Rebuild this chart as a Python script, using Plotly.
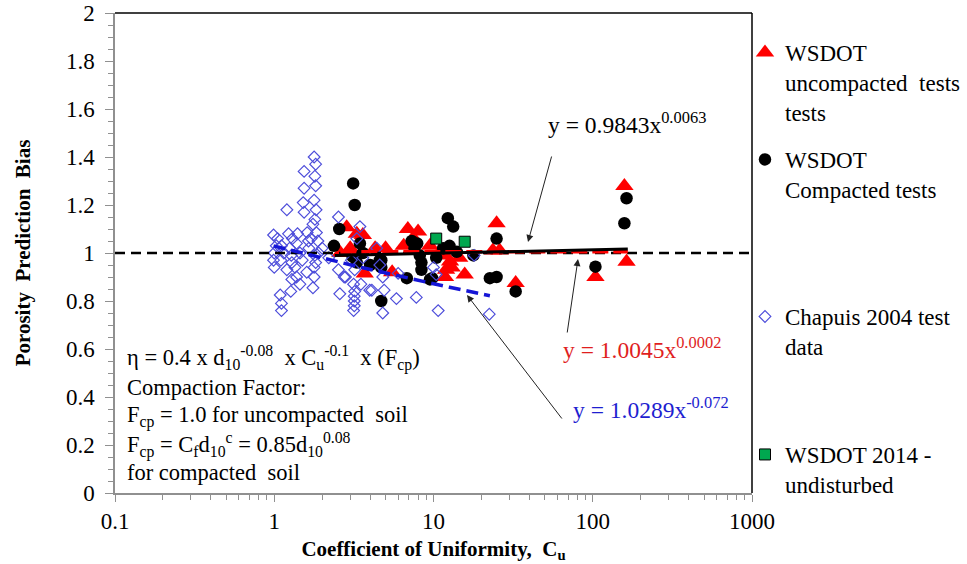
import plotly.graph_objects as go
import numpy as np

# ---------------- data ----------------
uncomp_cu = [2.85, 3.6, 3.3, 6.9, 8.0, 24.9, 4.3, 5.0, 11.0, 11.8, 13.0, 11.8, 15.7, 5.5, 3.7,
             23.6, 26.0, 6.5, 12.0, 12.7, 32.8, 158, 163, 104, 7.5, 9.5, 14.5, 2.6, 3.0]
uncomp_bias = [1.107, 1.075, 1.08, 1.10, 1.09, 1.124, 1.02, 1.02, 1.005, 0.99, 0.94, 0.90, 0.91, 0.92, 0.915,
               1.01, 1.01, 1.03, 0.93, 0.965, 0.875, 1.279, 0.964, 0.90, 1.06, 1.03, 0.98, 1.0, 1.02]

comp_cu = [3.13, 3.2, 2.56, 2.37, 3.45, 3.1, 3.6, 4.7, 4.7, 4.7, 6.8, 9.5, 7.3, 7.9, 8.2, 8.4, 7.6,
           12.3, 13.3, 10.4, 14.0, 22.6, 24.9, 24.9, 17.8, 163, 158, 104, 32.8, 9.8, 4.6, 8.4, 12.6,
           11.5, 3.3, 4.0]
comp_bias = [1.29, 1.20, 1.10, 1.03, 1.04, 0.985, 1.0, 0.97, 0.94, 0.80, 0.895, 0.89, 1.05, 1.04, 0.99,
             0.96, 1.02, 1.145, 1.11, 0.98, 1.005, 0.895, 0.90, 1.06, 0.99, 1.228, 1.124, 0.943, 0.84,
             0.895, 0.97, 0.93, 1.03, 1.02, 0.96, 0.95]

chap_cu = [1.78, 1.82, 1.54, 1.80, 1.82, 1.54, 1.78, 1.52, 1.20, 1.54, 1.83, 1.80, 1.75, 2.53, 3.45,
           0.99, 1.23, 1.61, 1.84, 1.30, 1.64, 1.88, 1.03, 1.11, 1.00, 0.99, 1.00, 1.38, 1.28, 1.29,
           1.35, 1.29, 1.27, 1.38, 1.80, 1.82, 1.78, 1.78, 1.75, 2.00, 2.53, 2.75, 3.20, 3.15, 3.20,
           3.18, 3.15, 3.50, 2.58, 1.09, 1.11, 1.11, 3.98, 3.18, 3.18, 4.4, 2.8, 4.1, 4.9, 5.85, 4.8,
           7.8, 10.7, 10.0, 10.4, 4.8, 6.0, 18.0, 22.4, 1.05, 1.15, 1.45, 1.65, 1.2, 1.5, 1.7, 3.3,
           1.1, 1.9, 2.2, 3.05, 1.4, 1.25, 1.6, 1.45, 3.6, 4.6]
chap_bias = [1.40, 1.37, 1.34, 1.32, 1.28, 1.27, 1.22, 1.21, 1.18, 1.17, 1.18, 1.14, 1.12, 1.15, 1.11,
             1.075, 1.08, 1.085, 1.085, 1.06, 1.05, 1.05, 1.03, 1.03, 1.00, 0.97, 0.94, 1.04, 0.99, 0.96,
             0.94, 0.89, 0.84, 0.90, 0.99, 0.96, 0.94, 0.90, 0.855, 1.02, 0.93, 0.90, 0.93, 0.87, 0.84,
             0.80, 0.76, 0.87, 0.83, 0.825, 0.79, 0.76, 0.845, 0.82, 0.78, 1.02, 0.90, 0.845, 0.845, 0.81, 0.75,
             0.815, 0.76, 0.94, 0.91, 0.90, 0.915, 0.99, 0.745, 1.06, 1.00, 1.00, 1.02, 0.93, 0.97, 1.06, 1.06,
             0.97, 1.0, 0.98, 0.97, 1.08, 1.02, 0.92, 0.87, 0.98, 0.95]

ws2014_cu = [10.4, 15.7]
ws2014_bias = [1.06, 1.047]

# trendline equations (as printed on chart): y = a * x^b, over the fitted Cu span
trend_all = dict(a=0.9843, b=0.0063, xmin=2.4, xmax=166)
trend_unc = dict(a=1.0045, b=0.0002, xmin=2.6, xmax=166)
trend_chap = dict(a=1.0289, b=-0.072, xmin=0.99, xmax=22.6)

x_ticks = [0.1, 1, 10, 100, 1000]
x_ticktext = ["0.1", "1", "10", "100", "1000"]

FONT = "Liberation Serif"

def trend_xy(t, n=60):
    xs = np.logspace(np.log10(t["xmin"]), np.log10(t["xmax"]), n)
    return xs, t["a"] * xs ** t["b"]

fig = go.Figure()

fig.add_trace(go.Scatter(x=uncomp_cu, y=uncomp_bias, mode="markers",
                         name="WSDOT<br>uncompacted  tests<br>tests",
                         marker=dict(symbol="triangle-up", size=16, color="#ff0000"),
                         legend="legend"))
fig.add_trace(go.Scatter(x=comp_cu, y=comp_bias, mode="markers",
                         name="WSDOT<br>Compacted tests",
                         marker=dict(symbol="circle", size=12.5, color="#000000"),
                         legend="legend2"))
fig.add_trace(go.Scatter(x=chap_cu, y=chap_bias, mode="markers",
                         name="Chapuis 2004 test<br>data",
                         marker=dict(symbol="diamond-open", size=9, color="#4d4dda",
                                     line=dict(width=1.2)),
                         legend="legend3"))

# reference line y = 1
fig.add_trace(go.Scatter(x=[0.1, 1000], y=[1, 1], mode="lines", showlegend=False,
                         line=dict(color="#000000", width=2.6, dash="10px,6px"), hoverinfo="skip"))

xr, yr = trend_xy(trend_unc)
fig.add_trace(go.Scatter(x=xr, y=yr, mode="lines", showlegend=False,
                         line=dict(color="#ff0000", width=3.5, dash="16px,5px"), hoverinfo="skip"))
xa, ya = trend_xy(trend_all)
fig.add_trace(go.Scatter(x=xa, y=ya, mode="lines", showlegend=False,
                         line=dict(color="#000000", width=3), hoverinfo="skip"))
xc, yc = trend_xy(trend_chap)
fig.add_trace(go.Scatter(x=xc, y=yc, mode="lines", showlegend=False,
                         line=dict(color="#1515d6", width=3.5, dash="12px,6px"), hoverinfo="skip"))

fig.add_trace(go.Scatter(x=ws2014_cu, y=ws2014_bias, mode="markers",
                         name="WSDOT 2014 -<br>undisturbed",
                         marker=dict(symbol="square", size=11, color="#00a84f",
                                     line=dict(color="#000000", width=1)),
                         legend="legend4"))

# ---------------- annotations ----------------
ann = []
txt_lines = [
    ("η = 0.4 x d<sub>10</sub><sup>-0.08</sup>  x C<sub>u</sub><sup>-0.1</sup>  x (F<sub>cp</sub>)", 358),
    ("Compaction Factor:", 387),
    ("F<sub>cp</sub> = 1.0 for uncompacted  soil", 416),
    ("F<sub>cp</sub> = C<sub>f</sub>d<sub>10</sub><sup>c</sup> = 0.85d<sub>10</sub><sup>0.08</sup>", 445),
    ("for compacted  soil", 472),
]
for t, py in txt_lines:
    ann.append(dict(text=t, xref="paper", yref="paper", x=(125 - 115) / 637, y=(493 - py) / 480,
                    xanchor="left", yanchor="middle", showarrow=False,
                    font=dict(family=FONT, size=22.5, color="#000000")))

eqs = [
    ("y = 0.9843x<sup>0.0063</sup>", 546, 123, "#000000"),
    ("y = 1.0045x<sup>0.0002</sup>", 561, 348, "#e01e1e"),
    ("y = 1.0289x<sup>-0.072</sup>", 571, 408, "#1e1ed0"),
]
for t, px, py, col in eqs:
    ann.append(dict(text=t, xref="paper", yref="paper", x=(px - 115) / 637, y=(493 - py) / 480,
                    xanchor="left", yanchor="middle", showarrow=False,
                    font=dict(family=FONT, size=23.5, color=col)))

# arrows (head, tail) in pixel positions converted to paper
arrows = [((528, 242), (552, 155)), ((578, 259), (567, 334)), ((467, 295), (563, 420))]
for (hx, hy), (tx, ty) in arrows:
    ann.append(dict(text="", xref="paper", yref="paper", x=(hx - 115) / 637, y=(493 - hy) / 480,
                    ax=tx - hx, ay=ty - hy, showarrow=True, arrowhead=2, arrowsize=1.4,
                    arrowwidth=1, arrowcolor="#222222"))

fig.update_layout(annotations=ann)

# plot border top/right
fig.add_shape(type="line", xref="paper", yref="paper", x0=0, x1=1, y0=1, y1=1,
              line=dict(color="#000000", width=1.5))
fig.add_shape(type="line", xref="paper", yref="paper", x0=1, x1=1, y0=0, y1=1,
              line=dict(color="#000000", width=1.5))

leg_common = dict(font=dict(family=FONT, size=23, color="#000000"), bgcolor="rgba(0,0,0,0)",
                  xref="container", yref="container", xanchor="left", yanchor="top",
                  valign="top", itemwidth=30, borderwidth=0)
lx = 745 / 967
fig.update_layout(
    legend=dict(x=lx, y=1 - 31 / 564, **leg_common),
    legend2=dict(x=lx, y=1 - 138 / 564, **leg_common),
    legend3=dict(x=lx, y=1 - 295 / 564, **leg_common),
    legend4=dict(x=lx, y=1 - 433 / 564, **leg_common),
)

fig.update_layout(
    width=967, height=564,
    margin=dict(l=115, r=215, t=13, b=71, autoexpand=False),
    paper_bgcolor="white", plot_bgcolor="white",
    font=dict(family=FONT, size=23, color="#000000"),
    xaxis=dict(type="log", range=[-1, 3], tickvals=x_ticks, ticktext=x_ticktext,
               showgrid=False, zeroline=False, showline=True, linecolor="#909090", linewidth=1.5,
               ticks="outside", ticklen=7, tickcolor="#909090", tickwidth=1,
               tickfont=dict(family=FONT, size=23), automargin=False,
               minor=dict(tickvals=[m * d for d in [0.1, 1, 10, 100] for m in range(2, 10)],
                          ticks="outside", ticklen=5, tickcolor="#909090", tickwidth=1, showgrid=False),
               title=dict(text="<b>Coefficient of Uniformity,  C<sub>u</sub></b>",
                          font=dict(family=FONT, size=21), standoff=8)),
    yaxis=dict(range=[0, 2], dtick=0.2, tick0=0, showgrid=False, zeroline=False,
               showline=True, linecolor="#909090", linewidth=1.5,
               ticks="outside", ticklen=8, tickcolor="#909090", tickwidth=1,
               ticklabelstandoff=6,
               tickfont=dict(family=FONT, size=23), automargin=False,
               minor=dict(dtick=0.05, ticks="outside", ticklen=5, tickcolor="#909090",
                          tickwidth=1, showgrid=False),
               title=dict(text="<b>Porosity  Prediction  Bias</b>",
                          font=dict(family=FONT, size=21), standoff=30)),
)

fig.write_html("out.html")
